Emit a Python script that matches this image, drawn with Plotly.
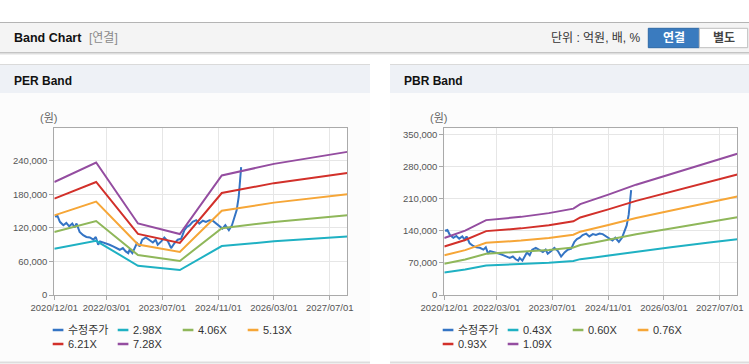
import plotly.graph_objects as go

W, H = 749, 364

# ---------------- data ----------------
per_dates = ["2020-12-01", "2021-12-01", "2022-12-01", "2023-12-01", "2024-12-01", "2026-03-01", "2027-12-01"]
per_298 = [82800, 97100, 52400, 44700, 87600, 96100, 104900]
per_406 = [112900, 132400, 71500, 60900, 119400, 130900, 142900]
per_513 = [142600, 167200, 90300, 77000, 150800, 165400, 180600]
per_621 = [172600, 202400, 109300, 93200, 182600, 200300, 218600]
per_728 = [202400, 237300, 128100, 109200, 214000, 234800, 256300]

pbr_dates = ["2020-12-01", "2021-06-01", "2021-12-01", "2022-10-01", "2023-06-01", "2024-01-01", "2024-03-01",
             "2024-07-01", "2024-11-01", "2025-07-01", "2026-05-01", "2027-04-01", "2027-12-01"]
pbr_043 = [49000, 55500, 64500, 67300, 70500, 74400, 78300, 82100, 86400, 95000, 104100, 114400, 121700]
pbr_060 = [68400, 77400, 90000, 93900, 98400, 103800, 109200, 114600, 120600, 132600, 145200, 159600, 169800]
pbr_076 = [86600, 98000, 114000, 118900, 124600, 131500, 138300, 145200, 152800, 168000, 183900, 202200, 215100]
pbr_093 = [106000, 120000, 139500, 145500, 152500, 160900, 169300, 177600, 186900, 205500, 225100, 247400, 263200]
pbr_109 = [124300, 140600, 163500, 170600, 178800, 188600, 198400, 208200, 219100, 240900, 263800, 289900, 308500]

price_dates = ["2020-12-07", "2020-12-28", "2021-01-19", "2021-02-18", "2021-03-16", "2021-04-10", "2021-05-07",
               "2021-05-28", "2021-06-13", "2021-07-10", "2021-08-10", "2021-09-07", "2021-10-07", "2021-11-07",
               "2021-11-28", "2021-12-19", "2022-01-04", "2022-02-01", "2022-03-01", "2022-03-28", "2022-04-28",
               "2022-05-25", "2022-06-25", "2022-07-22", "2022-08-16", "2022-09-07", "2022-09-19", "2022-10-13",
               "2022-11-04", "2022-11-22", "2022-12-16", "2023-01-07", "2023-02-07", "2023-03-10", "2023-04-10",
               "2023-05-04", "2023-05-22", "2023-06-22", "2023-07-19", "2023-08-19", "2023-09-16", "2023-10-16",
               "2023-11-13", "2023-12-13", "2024-01-10", "2024-02-01", "2024-02-25", "2024-03-22", "2024-04-22",
               "2024-05-19", "2024-06-19", "2024-07-16", "2024-08-16", "2024-09-13", "2024-10-13", "2024-11-10",
               "2024-12-07", "2025-01-01", "2025-02-01", "2025-02-28", "2025-03-19", "2025-04-10", "2025-04-28",
               "2025-05-07", "2025-05-19"]
price = [140300, 142000, 131000, 125000, 129000, 123000, 128000, 121000, 128000, 113000,
         107000, 104000, 103000, 99000, 104000, 90000, 96000, 94000, 93000, 90000,
         87000, 84000, 81000, 84000, 78000, 75000, 81000, 75000, 84000, 93000,
         87000, 99000, 103000, 99000, 94000, 99000, 90000, 96000, 103000, 96000,
         84000, 93000, 99000, 101000, 116000, 122000, 125000, 131000, 134000, 128000,
         133000, 131000, 134000, 133000, 128000, 122000, 119000, 125000, 116000, 125000,
         137000, 152000, 176000, 206000, 229000]

x_tickvals = ["2020-12-01", "2022-03-01", "2023-07-01", "2024-11-01", "2026-03-01", "2027-07-01"]
x_ticktext = ["2020/12/01", "2022/03/01", "2023/07/01", "2024/11/01", "2026/03/01", "2027/07/01"]
per_yticks = [0, 60000, 120000, 180000, 240000]
pbr_yticks = [0, 70000, 140000, 210000, 280000, 350000]

per_names = ["2.98X", "4.06X", "5.13X", "6.21X", "7.28X"]
pbr_names = ["0.43X", "0.60X", "0.76X", "0.93X", "1.09X"]
price_name = "수정주가"

C_PRICE = "#3474c4"
BAND_COLORS = ["#1fb1c3", "#8fb75a", "#f6a637", "#d2302a", "#944da0"]

# ---------------- helpers ----------------
def px(x):
    return x / W


def py(y):
    return 1 - y / H


TICK_FONT = dict(family="Liberation Sans, Arial, sans-serif", size=9.5, color="#555555")
TXT_FAMILY = "Liberation Sans, Noto Sans CJK KR, sans-serif"

fig = go.Figure()

# PER traces
fig.add_trace(go.Scatter(x=price_dates, y=price, mode="lines", line=dict(color=C_PRICE, width=2),
                         name=price_name, xaxis="x", yaxis="y"))
for vals, nm, col in zip([per_298, per_406, per_513, per_621, per_728], per_names, BAND_COLORS):
    fig.add_trace(go.Scatter(x=per_dates, y=vals, mode="lines", line=dict(color=col, width=2),
                             name=nm, xaxis="x", yaxis="y"))
# PBR traces
fig.add_trace(go.Scatter(x=price_dates, y=price, mode="lines", line=dict(color=C_PRICE, width=2),
                         name=price_name, xaxis="x2", yaxis="y2"))
for vals, nm, col in zip([pbr_043, pbr_060, pbr_076, pbr_093, pbr_109], pbr_names, BAND_COLORS):
    fig.add_trace(go.Scatter(x=pbr_dates, y=vals, mode="lines", line=dict(color=col, width=2),
                             name=nm, xaxis="x2", yaxis="y2"))

# plot area geometry (pixels)
PT, PB = 128.3, 295.0
PER_L, PER_R = 54.3, 347.3
PBR_L, PBR_R = 444.3, 737.3
ydom = [py(PB), py(PT)]

common_x = dict(type="date", range=["2020-12-01", "2027-12-01"], tickvals=x_tickvals, ticktext=x_ticktext,
                tickangle=0, showgrid=True, gridcolor="#e6e6e6", gridwidth=1, showline=True,
                linecolor="#aaaaaa", linewidth=1, mirror=True, ticks="outside", ticklen=4,
                tickcolor="#aaaaaa", tickfont=TICK_FONT, zeroline=False, automargin=False, fixedrange=True)
common_y = dict(showgrid=True, gridcolor="#e6e6e6", gridwidth=1, showline=True, linecolor="#aaaaaa",
                linewidth=1, mirror=True, ticks="outside", ticklen=4, tickcolor="#aaaaaa",
                tickfont=TICK_FONT, zeroline=False, automargin=False, fixedrange=True)

fig.update_layout(
    xaxis=dict(domain=[px(PER_L), px(PER_R)], anchor="y", **common_x),
    yaxis=dict(domain=ydom, anchor="x", range=[0, 298500], tickvals=per_yticks,
               ticktext=[f"{v:,}" for v in per_yticks], **common_y),
    xaxis2=dict(domain=[px(PBR_L), px(PBR_R)], anchor="y2", **common_x),
    yaxis2=dict(domain=ydom, anchor="x2", range=[0, 364000], tickvals=pbr_yticks,
                ticktext=[f"{v:,}" for v in pbr_yticks], **common_y),
)

shapes = []


def rect(x0, y0, x1, y1, fill, line=None, lw=0):
    shapes.append(dict(type="rect", xref="paper", yref="paper", x0=px(x0), x1=px(x1), y0=py(y1), y1=py(y0),
                       fillcolor=fill, line=dict(color=line or fill, width=lw), layer="below"))


def hline(x0, x1, y, color, w=1):
    shapes.append(dict(type="line", xref="paper", yref="paper", x0=px(x0), x1=px(x1), y0=py(y), y1=py(y),
                       line=dict(color=color, width=w), layer="below"))


# top header bar
rect(0, 22.5, W, 52.5, "#f4f4f4")
hline(0, W, 22.5, "#b4b4b4", 1)
hline(0, W, 52.5, "#c4c4c4", 1)
hline(0, W, 53.5, "#dedede", 1)
hline(0, W, 54.5, "#efefef", 1)
# buttons
rect(648.3, 28.3, 699.3, 47.7, "#3a7bbf", "#2d68a6", 1)
rect(699.3, 28.3, 747.7, 47.7, "#ffffff", "#bdbdbd", 1)

# panels
for (x0, x1) in [(0, 370), (390, W)]:
    rect(x0, 93, x1, 362, "#fcfcfc")
    rect(x0, 64.5, x1, 93, "#eef1f6")
    hline(x0, x1, 64.5, "#dadada", 1)
    hline(x0, x1, 362.5, "#dddddd", 2)

# white plot areas
rect(PER_L, PT, PER_R, PB, "#ffffff")
rect(PBR_L, PT, PBR_R, PB, "#ffffff")

annotations = []


def text(x, y, s, size=12, color="#000000", bold=False, anchor="left", family=TXT_FAMILY):
    annotations.append(dict(xref="paper", yref="paper", x=px(x), y=py(y), text=f"<b>{s}</b>" if bold else s,
                            showarrow=False, xanchor=anchor, yanchor="middle",
                            font=dict(family=family, size=size, color=color)))


text(12, 38.5, "Band Chart", 12.5, "#111111", bold=True)
text(87, 38.5, "[연결]", 12, "#8a8a8a")
text(643, 38.5, "단위 : 억원, 배, %", 12, "#333333", anchor="right")
text(673.8, 38.2, "연결", 12, "#ffffff", bold=True, anchor="center")
text(723.5, 38.2, "별도", 12, "#444444", bold=True, anchor="center")

text(11.5, 80.5, "PER Band", 12, "#111111", bold=True)
text(401.5, 80.5, "PBR Band", 12, "#111111", bold=True)
text(48.5, 118.3, "(원)", 11, "#666666", anchor="center")
text(438.5, 118.3, "(원)", 11, "#666666", anchor="center")


# custom legends
def legend(x_start, names):
    items = [(price_name, C_PRICE)] + list(zip(names, BAND_COLORS))
    for i, (nm, col) in enumerate(items):
        row, colno = divmod(i, 4)
        x0 = x_start + colno * 65
        yy = 330 + row * 14
        shapes.append(dict(type="line", xref="paper", yref="paper", x0=px(x0), x1=px(x0 + 10.7),
                           y0=py(yy), y1=py(yy), line=dict(color=col, width=2.5)))
        text(x0 + 13.3, yy, nm, 11, "#333333")


legend(52.7, per_names)
legend(442.7, pbr_names)

fig.update_layout(
    width=W, height=H, margin=dict(l=0, r=0, t=0, b=0),
    paper_bgcolor="#ffffff", plot_bgcolor="#ffffff",
    showlegend=False, shapes=shapes, annotations=annotations,
    font=dict(family=TXT_FAMILY),
)

fig.write_html("out.html", config={"displayModeBar": False},
               post_script="document.body.style.margin='0';")
